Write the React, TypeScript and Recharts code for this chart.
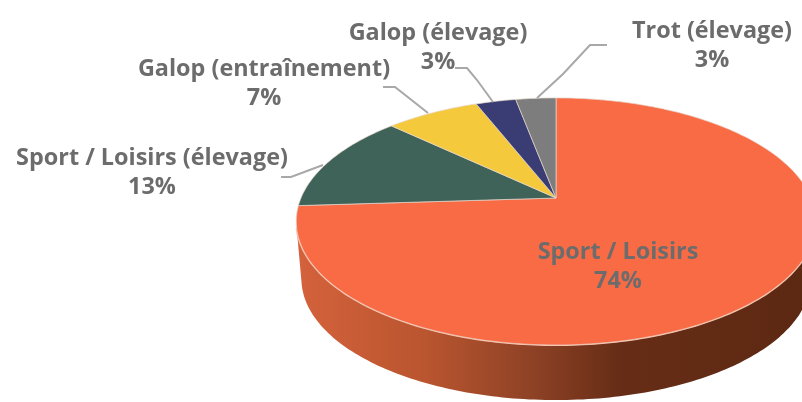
import { PieChart, Pie, Cell } from 'recharts'

const categories = ['Sport / Loisirs', 'Sport / Loisirs (élevage)', 'Galop (entraînement)', 'Galop (élevage)', 'Trot (élevage)']
const shares = [74, 13, 7, 3, 3]
const colors = ['#f96b45', '#3f6358', '#f4c93c', '#3a3d73', '#7d7d7d']

const data = categories.map((name, i) => ({ name, value: shares[i] }))

// Label placement: text centre, first baseline, leader line
const labelLayout = [
  { x: 618, y: 259, line: '' },
  { x: 152, y: 165, line: '281,177 291,177 323,165' },
  { x: 264, y: 76, line: '383,87 395,87 428,113' },
  { x: 438, y: 40, line: '455,68 467,68 477,80 493,102' },
  { x: 712, y: 38, line: '607,45 590,45 563,74 537,98' },
]

const CX = 556
const CY = 198
const RADIUS = 255
const TILT = 0.467
const PERSPECTIVE = 0.19
const DEPTH = 58

// Project a point of the flat pie onto the tilted disc
function project(cx: number, cy: number, r: number, deg: number, shrink = 1, drop = 0) {
  const a = (deg * Math.PI) / 180
  const d = 1 + PERSPECTIVE * Math.sin(a)
  return [cx + (shrink * r * Math.cos(a)) / d, cy + drop - (shrink * r * TILT * Math.sin(a)) / d]
}

function arcPoints(cx: number, cy: number, r: number, from: number, to: number, shrink = 1, drop = 0) {
  const steps = Math.max(2, Math.ceil(Math.abs(to - from)))
  const pts: string[] = []
  for (let i = 0; i <= steps; i++) {
    const [x, y] = project(cx, cy, r, from + ((to - from) * i) / steps, shrink, drop)
    pts.push(`${x.toFixed(1)} ${y.toFixed(1)}`)
  }
  return pts
}

function TopSlice(props: any) {
  const { cx, cy, outerRadius, startAngle, endAngle, fill } = props
  const pts = arcPoints(cx, cy, outerRadius, startAngle, endAngle)
  const d = `M${cx} ${cy}L${pts.join('L')}Z`
  return <path d={d} fill={fill} stroke="#e6d6cc" strokeOpacity={0.7} strokeWidth={1} />
}

function WallSlice(props: any) {
  const { cx, cy, outerRadius, startAngle, endAngle } = props
  const from = Math.min(startAngle, -14)
  const to = Math.max(endAngle, -166)
  if (from <= to) return null
  const rim = arcPoints(cx, cy, outerRadius, from, to)
  const base = arcPoints(cx, cy, outerRadius, to, from, 0.98, DEPTH)
  return (
    <g>
      <path d={`M${rim.join('L')}L${base.join('L')}Z`} fill="url(#wallFade)" />
      <path d={`M${rim.join('L')}`} fill="none" stroke="#fbbfa6" strokeWidth={2} />
    </g>
  )
}

function SliceLabel(props: any) {
  const { index, name, value } = props
  const spot = labelLayout[index]
  const textStyle = { fontFamily: 'Open Sans', fontWeight: 700, fontSize: 23.4, fill: '#6c6c6c' }
  return (
    <g>
      {spot.line && <polyline points={spot.line} fill="none" stroke="#a8a8a8" strokeWidth={2} />}
      <text x={spot.x} y={spot.y} textAnchor="middle" style={textStyle}>{name}</text>
      <text x={spot.x} y={spot.y + 29} textAnchor="middle" style={textStyle}>{value}%</text>
    </g>
  )
}

export default function App() {
  return (
    <div style={{ position: 'absolute', left: 0, top: 0, width: 802, height: 402, overflow: 'hidden', background: '#fff', filter: 'blur(0.5px)' }}>
      <PieChart width={802} height={402} margin={{ top: 0, right: 0, bottom: 0, left: 0 }}>
        <defs>
          <linearGradient id="wallFade" x1="0" y1="0" x2="1" y2="0">
            <stop offset="0%" stopColor="#d4623c" />
            <stop offset="25%" stopColor="#b9552f" />
            <stop offset="45%" stopColor="#8f4226" />
            <stop offset="62%" stopColor="#672d16" />
            <stop offset="100%" stopColor="#5c2812" />
          </linearGradient>
        </defs>
        <Pie
          data={data}
          dataKey="value"
          nameKey="name"
          cx={CX}
          cy={CY}
          outerRadius={RADIUS}
          startAngle={90}
          endAngle={-270}
          stroke="none"
          shape={WallSlice}
          inactiveShape={WallSlice}
          isAnimationActive={false}
          labelLine={false}
        />
        <Pie
          data={data}
          dataKey="value"
          nameKey="name"
          cx={CX}
          cy={CY}
          outerRadius={RADIUS}
          startAngle={90}
          endAngle={-270}
          shape={TopSlice}
          inactiveShape={TopSlice}
          isAnimationActive={false}
          labelLine={false}
          label={SliceLabel}
        >
          {data.map((entry, i) => (
            <Cell key={entry.name} fill={colors[i]} />
          ))}
        </Pie>
      </PieChart>
    </div>
  )
}
